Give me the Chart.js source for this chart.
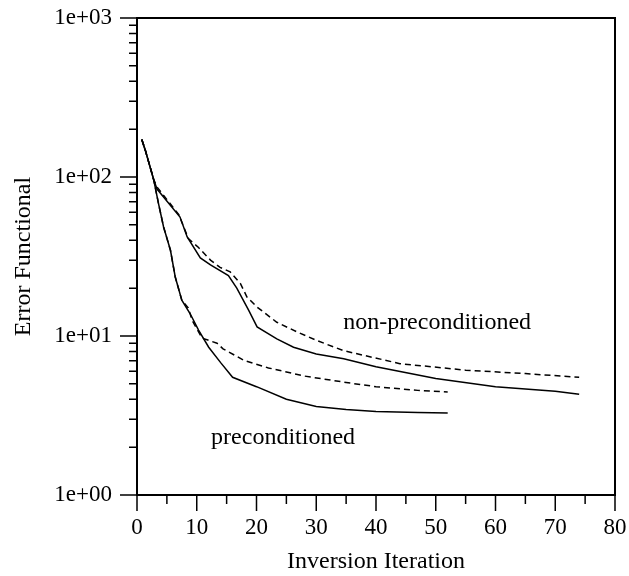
<!DOCTYPE html>
<html>
<head>
<meta charset="utf-8">
<script src="https://cdn.jsdelivr.net/npm/chart.js@4"></script>
<style>
  html, body { margin: 0; padding: 0; background: #fff; }
  #wrap { width: 629px; height: 576px; }
</style>
</head>
<body>
<div id="wrap"><canvas id="c" width="629" height="576"></canvas></div>
<script>
// non-preconditioned, solid
const npSolidIt  = [0.8, 1.4, 2.8, 3.35, 7.2, 8.4, 10.6, 12.3, 15.3, 16.7, 18.7, 20.1, 23.4, 26.2, 30, 34.6, 40, 50, 60, 70, 74];
const npSolidVal = [172, 147, 96, 84, 56, 42, 31, 28, 24, 20, 14.5, 11.4, 9.6, 8.5, 7.7, 7.2, 6.4, 5.4, 4.8, 4.5, 4.3];
// non-preconditioned, dashed
const npDashIt  = [0.8, 1.4, 2.8, 3.4, 7, 8.6, 10.3, 12.3, 13.9, 15.6, 17.3, 18.4, 20.1, 23.4, 26.8, 30, 34.5, 44, 55, 65, 74];
const npDashVal = [172, 147, 96, 86, 58, 41, 36, 30, 27, 25.3, 21.4, 17.6, 15.2, 12.2, 10.6, 9.4, 8.1, 6.7, 6.1, 5.8, 5.5];
// preconditioned, solid
const pSolidIt  = [0.8, 1.4, 2.8, 3.6, 4.45, 5.6, 6.4, 7.5, 8.9, 10.3, 12, 14, 16, 20, 25, 30, 35, 40, 47, 52];
const pSolidVal = [172, 147, 96, 68, 48.5, 34.6, 23.5, 16.8, 13.8, 10.9, 8.5, 6.8, 5.5, 4.8, 4.0, 3.6, 3.45, 3.35, 3.3, 3.28];
// preconditioned, dashed
const pDashIt  = [0.8, 1.4, 2.8, 3.6, 4.45, 5.6, 6.4, 7.5, 8.6, 9.2, 10.9, 13.4, 14.4, 18, 22, 28, 35, 40, 47, 52];
const pDashVal = [172, 147, 96, 68, 48.5, 34.6, 23.5, 16.8, 15, 12.6, 9.7, 9.0, 8.3, 7.0, 6.3, 5.6, 5.1, 4.8, 4.55, 4.45];

const xTicks = [0, 10, 20, 30, 40, 50, 60, 70, 80];
const yTicks = [1, 10, 100, 1000];
const yTickLabels = ['1e+00', '1e+01', '1e+02', '1e+03'];

// labels sit on their baseline at these data coordinates
const curveLabels = [
  { text: 'non-preconditioned', x: 34.5, y: 11 },
  { text: 'preconditioned', x: 12.4, y: 2.1 }
];

const FONT = '"Liberation Serif", "DejaVu Serif", serif';

function pts(xs, ys) {
  return xs.map((x, i) => ({ x: x, y: ys[i] }));
}

function lineSet(xs, ys, dashed) {
  return {
    data: pts(xs, ys),
    borderColor: '#000',
    borderWidth: 1.5,
    borderDash: dashed ? [6, 4] : [],
    pointRadius: 0,
    tension: 0,
    fill: false
  };
}

// frame, tick marks and the two curve labels
const framePlugin = {
  id: 'frame',
  afterDraw(chart) {
    const { ctx, chartArea: a, scales } = chart;
    const xs = scales.x, ys = scales.y;
    ctx.save();
    ctx.strokeStyle = '#000';
    ctx.lineWidth = 2;
    ctx.strokeRect(a.left, a.top, a.right - a.left, a.bottom - a.top);

    ctx.lineWidth = 1.5;
    ctx.beginPath();
    // y ticks: major at decades, minor 2..9
    for (let d = 1; d <= 1000; d *= 10) {
      const y = ys.getPixelForValue(d);
      ctx.moveTo(a.left - 17, y); ctx.lineTo(a.left, y);
      if (d < 1000) {
        for (let m = 2; m <= 9; m++) {
          const ym = ys.getPixelForValue(d * m);
          ctx.moveTo(a.left - 8, ym); ctx.lineTo(a.left, ym);
        }
      }
    }
    // x ticks: major every 10, minor every 5
    for (let v = 0; v <= 80; v += 5) {
      const x = xs.getPixelForValue(v);
      const len = v % 10 === 0 ? 16 : 9;
      ctx.moveTo(x, a.bottom); ctx.lineTo(x, a.bottom + len);
    }
    ctx.stroke();

    ctx.fillStyle = '#000';
    ctx.font = '24px ' + FONT;
    ctx.textBaseline = 'alphabetic';
    ctx.textAlign = 'left';
    curveLabels.forEach(l => {
      ctx.fillText(l.text, xs.getPixelForValue(l.x), ys.getPixelForValue(l.y));
    });
    ctx.restore();
  }
};

new Chart(document.getElementById('c'), {
  type: 'line',
  data: {
    datasets: [
      lineSet(npDashIt, npDashVal, true),
      lineSet(npSolidIt, npSolidVal, false),
      lineSet(pDashIt, pDashVal, true),
      lineSet(pSolidIt, pSolidVal, false)
    ]
  },
  options: {
    responsive: false,
    animation: false,
    layout: { padding: { top: 18, right: 14, left: 0, bottom: 0 } },
    plugins: { legend: { display: false }, tooltip: { enabled: false } },
    scales: {
      x: {
        type: 'linear',
        min: 0,
        max: 80,
        grid: { display: false, drawTicks: false },
        border: { display: false },
        afterBuildTicks(scale) {
          scale.ticks = xTicks.map(v => ({ value: v }));
        },
        afterFit(scale) {
          scale.height = 81;
          scale.paddingLeft = 0;
          scale.paddingRight = 0;
        },
        ticks: {
          padding: 19,
          color: '#000',
          font: { family: FONT, size: 23 },
          maxRotation: 0
        },
        title: {
          display: true,
          text: 'Inversion Iteration',
          color: '#000',
          font: { family: FONT, size: 24 },
          padding: { top: 2, bottom: 0 }
        }
      },
      y: {
        type: 'logarithmic',
        min: 1,
        max: 1000,
        grid: { display: false, drawTicks: false },
        border: { display: false },
        afterBuildTicks(scale) {
          scale.ticks = yTicks.map(v => ({ value: v }));
        },
        afterFit(scale) {
          scale.width = 137;
          scale.paddingTop = 0;
          scale.paddingBottom = 0;
        },
        ticks: {
          padding: 25,
          autoSkip: false,
          color: '#000',
          font: { family: FONT, size: 23 },
          callback: function(value) {
            const i = yTicks.indexOf(value);
            return i >= 0 ? yTickLabels[i] : '';
          }
        },
        title: {
          display: true,
          text: 'Error Functional',
          color: '#000',
          font: { family: FONT, size: 24 },
          padding: { top: 9, bottom: 0 }
        }
      }
    }
  },
  plugins: [framePlugin]
});
</script>
</body>
</html>
